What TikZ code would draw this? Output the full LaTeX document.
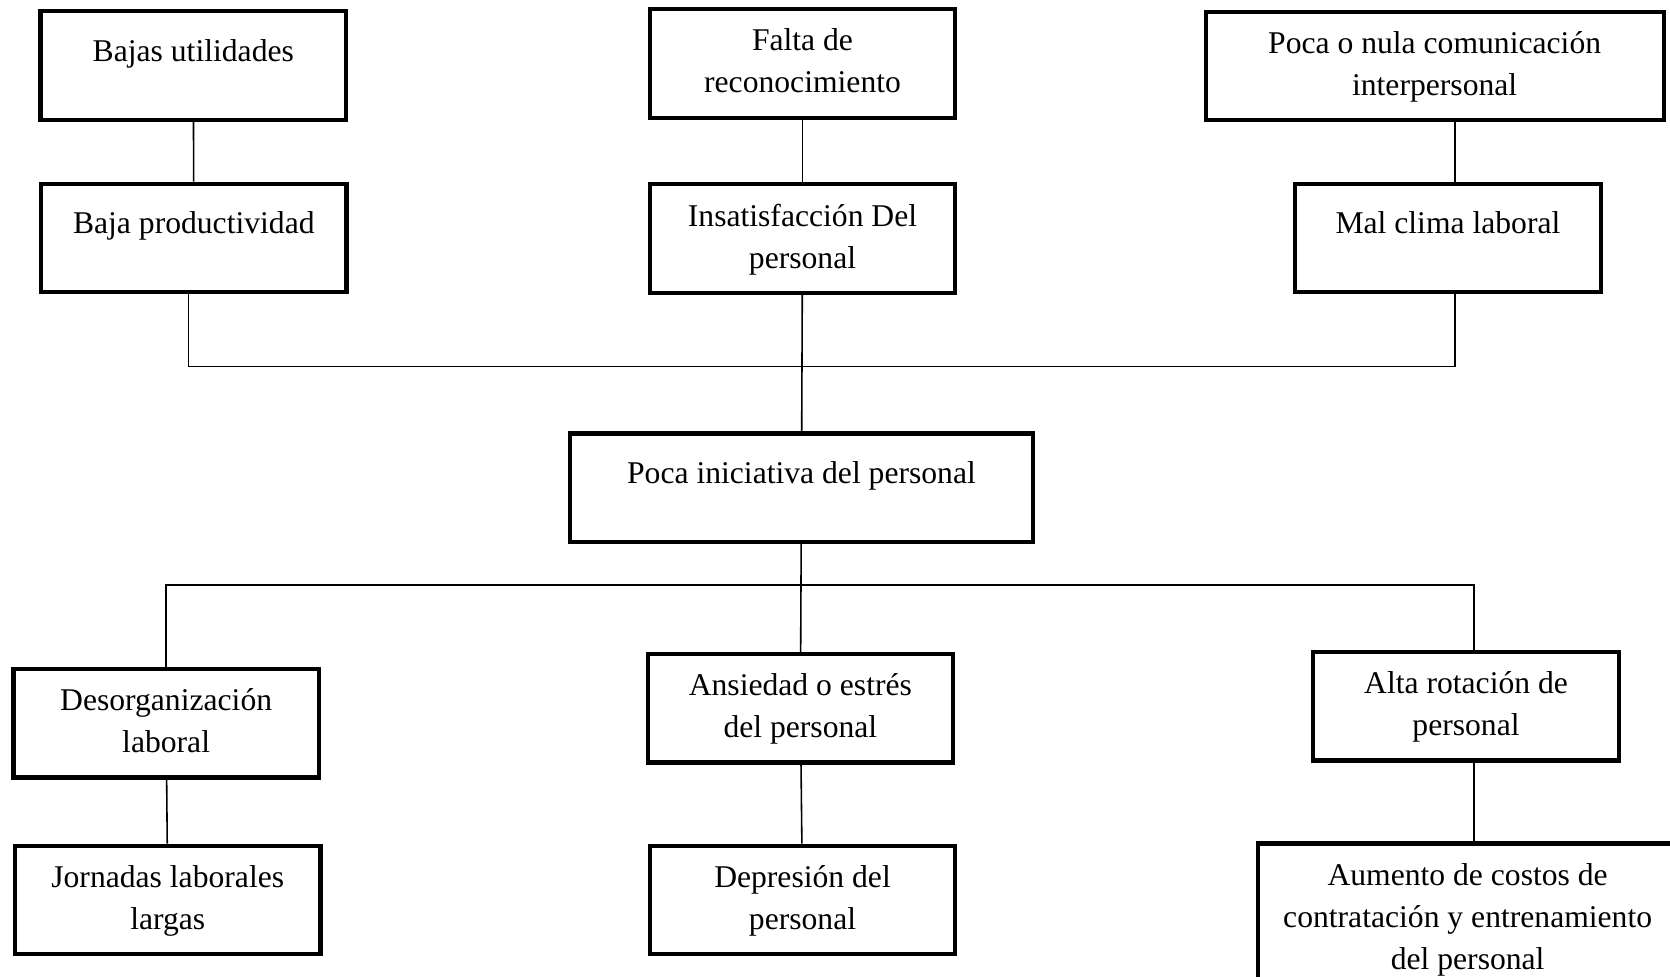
\documentclass[tikz,border=0pt]{standalone}
\usepackage{fontspec}
\setmainfont{Liberation Serif}
\usetikzlibrary{positioning,calc}

\tikzset{
  caja/.style={draw, line width=2.4pt, minimum width=6.11cm, minimum height=2.17cm, inner sep=0pt},
  texto/.style={anchor=north, inner sep=0pt, align=center, font=\fontsize{18}{24}\selectfont},
  uno/.style={texto, yshift=-0.6cm},
  dos/.style={texto, yshift=-0.43cm},
  linea/.style={line width=0.9pt}
}

\begin{document}
\begin{tikzpicture}[x=0.0213cm, y=-0.0213cm]
\useasboundingbox (0,0) rectangle (1568,917);
% efectos
\node[caja, label={[uno]north:Bajas utilidades}] (bu) at (181.5,61.5) {};
\node[caja, label={[dos]north:{Falta de\\reconocimiento}}] (fr) at (753.5,59.5) {};
\node[caja, minimum width=9.16cm, label={[dos]north:{Poca o nula comunicación\\interpersonal}}] (pn) at (1347,62) {};
\node[caja, label={[uno]north:Baja productividad}] (bp) at (182,223.5) {};
\node[caja, label={[dos]north:{Insatisfacción Del\\personal}}] (ip) at (753.5,224) {};
\node[caja, label={[uno]north:Mal clima laboral}] (mc) at (1359.5,223.5) {};
% problema
\node[caja, minimum width=9.26cm, label={[uno]north:Poca iniciativa del personal}] (pi) at (752.5,458) {};
% causas
\node[caja, label={[dos]north:{Desorganización\\laboral}}] (dl) at (156,679) {};
\node[caja, label={[dos]north:{Ansiedad o estrés\\del personal}}] (ae) at (751.5,665) {};
\node[caja, label={[dos]north:{Alta rotación de\\personal}}] (ar) at (1376.5,663) {};
\node[caja, label={[dos]north:{Jornadas laborales\\largas}}] (jl) at (157.5,845) {};
\node[caja, label={[dos]north:{Depresión del\\personal}}] (dp) at (753.5,845) {};
\node[caja, minimum width=8.39cm, minimum height=2.98cm, label={[dos]north:{Aumento de costos de\\contratación y entrenamiento\\del personal}}] (ac) at (1378,862) {};

% lineas
\coordinate (bus1) at (0,344);
\coordinate (bus2) at (0,549);
\coordinate (c1) at ($(mc.north)+(6.5,0)$);
\coordinate (c2) at ($(mc.south)+(6.5,0)$);
\coordinate (c3) at ($(ar.north)+(7.5,0)$);
\coordinate (c4) at ($(ar.south)+(7.5,0)$);
\coordinate (c5) at ($(bp.south)+(-5,0)$);
\draw[linea] (bu) -- (bp);
\draw[linea] (fr) -- (ip);
\draw[linea] (c1) -- (c1 |- pn.south);
\draw[linea] (c5) -- (c5 |- bus1) -- (c2 |- bus1) -- (c2);
\draw[linea] (ip) -- (pi);
\draw[linea] (pi) -- (ae);
\draw[linea] (dl.north) -- (dl.north |- bus2) -- (c3 |- bus2) -- (c3);
\draw[linea] (dl) -- (jl);
\draw[linea] (ae) -- (dp);
\draw[linea] (c4) -- (c4 |- ac.north);
\end{tikzpicture}
\end{document}
